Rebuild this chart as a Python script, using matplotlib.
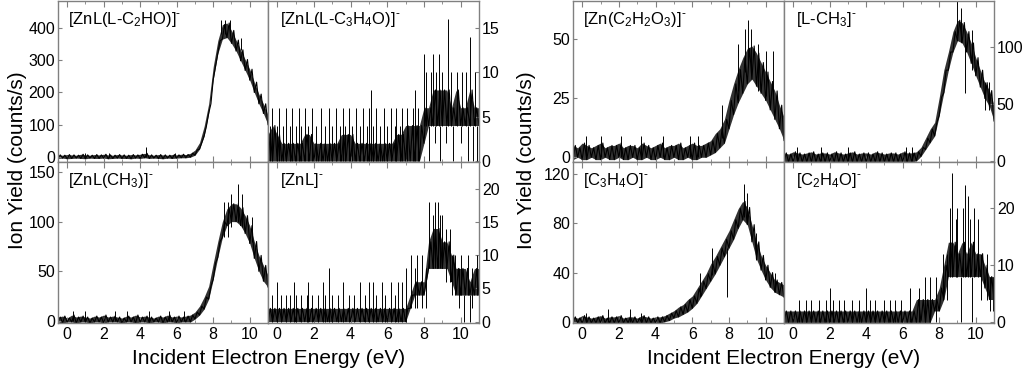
import matplotlib
matplotlib.use('Agg')
import matplotlib.pyplot as plt
from matplotlib.ticker import MultipleLocator

plt.rcParams['font.family'] = ['Liberation Sans', 'DejaVu Sans']
plt.rcParams['mathtext.fontset'] = 'custom'
plt.rcParams['mathtext.rm'] = 'Liberation Sans'
plt.rcParams['mathtext.it'] = 'Liberation Sans'
plt.rcParams['mathtext.default'] = 'regular'

# energy grid of the read-off envelopes (eV)
energy = [-0.5, -0.25, 0.0, 0.25, 0.5, 0.75, 1.0, 1.25, 1.5, 1.75, 2.0, 2.25,
          2.5, 2.75, 3.0, 3.25, 3.5, 3.75, 4.0, 4.25, 4.5, 4.75, 5.0, 5.25,
          5.5, 5.75, 6.0, 6.25, 6.5, 6.75, 7.0, 7.25, 7.5, 7.75, 8.0, 8.25,
          8.5, 8.75, 9.0, 9.25, 9.5, 9.75, 10.0, 10.25, 10.5, 10.75, 11.0]

# [ZnL(L-C2HO)]-
a_lo = [-4, -3, -5, -4, -3, -4, -5, -3, -4, -4, -3, -5, -4, -3, -4, -4, -5, -3,
        -4, -2, -4, -3, -4, -5, -3, -4, -3, -2, -2,
        0, 6, 25, 65, 135, 240, 320, 365, 370, 352, 328, 298, 268, 238, 200, 165, 135, 100]
a_hi = [7, 6, 8, 7, 6, 9, 7, 6, 8, 7, 9, 7, 6, 8, 7, 6, 8, 7, 9, 12, 7, 6, 8, 7,
        6, 8, 7, 9, 8,
        12, 22, 45, 95, 165, 280, 360, 410, 415, 392, 362, 332, 302, 272, 232, 195, 165, 130]
a_spikes = [(0, 30, [4.3]), (0, 12, [1.0, 2.3, 5.9]),
            (380, 425, [8.45, 8.65, 8.9]), (330, 370, [9.5])]

# [ZnL(L-C3H4O)]-
b_lo = [0] * 34 + [2, 4, 4, 4, 4, 4, 4, 4, 4, 4, 4, 4, 4]
b_hi = [3, 4, 3, 2, 2, 2, 2, 2, 3, 3, 2, 2, 2, 2, 2, 2, 3, 3, 3, 2, 2, 2, 2, 2,
        2, 2, 2, 2, 3, 3, 4, 4, 4, 4,
        6, 6, 8, 8, 8, 8, 6, 8, 6, 6, 8, 6, 6]
b_spikes = [(0, 6, [-0.3, 0.1, 0.5, 0.8, 1.2, 1.5, 1.9, 2.4, 2.8, 3.2, 3.6, 3.9,
                    4.3, 4.7, 5.0, 5.4, 5.8, 6.2, 6.5, 6.8, 7.1, 7.4, 7.7]),
            (0, 4, [-0.4, 0.0, 0.3, 0.7, 1.0, 1.3, 1.7, 2.1, 2.6, 3.0, 3.4, 3.7,
                    4.1, 4.5, 4.9, 5.2, 5.6, 6.0, 6.4, 6.7]),
            (0, 8, [5.1, 7.5]),
            (4, 10, [8.1, 8.4, 8.65, 9.0, 9.5, 9.8, 10.1, 10.3, 10.8]),
            (4, 12, [8.0, 8.5, 8.8]), (4, 16, [9.3]), (4, 14, [10.5]),
            (0, 4, [8.3, 8.9, 9.6, 10.4, 10.7, 10.9]),
            (2, 4, [8.6, 9.2, 10.0])]

# [ZnL(CH3)]-
c_lo = [-1, -2, -1, -1, -2, -1, -1, -2, -1, -1, -2, -1, -1, -1, -2, -1, -1, -2,
        -1, -1, -2, -1, -1, -2, -1, -1, -2, -1, -1,
        -1, 2, 6, 12, 22, 42, 64, 84, 96, 100, 100, 96, 88, 78, 63, 50, 40, 34]
c_hi = [4, 5, 3, 6, 4, 5, 4, 3, 5, 4, 6, 4, 5, 4, 3, 5, 4, 6, 4, 5, 4, 3, 5, 4,
        6, 4, 5, 4, 5,
        6, 9, 15, 24, 35, 58, 80, 100, 113, 118, 118, 114, 106, 96, 80, 66, 56, 46]
c_spikes = [(100, 138, [9.35]), (95, 128, [9.0, 9.6]), (85, 120, [8.6, 8.8]),
            (80, 105, [10.1]), (0, 10, [0.3, 1.0, 2.6, 3.3, 4.5, 5.6, 6.4])]

# [ZnL]-
d_lo = [0] * 31 + [2, 4, 4, 4, 8, 8, 8, 8, 8, 6, 4, 4, 4, 4, 4, 4]
d_hi = [2] * 31 + [4, 6, 6, 6, 12, 14, 14, 12, 12, 10, 8, 8, 8, 6, 8, 8]
d_spikes = [(0, 4, [-0.3, 0.2, 0.5, 0.7, 1.0, 1.3, 1.6, 1.9, 2.2, 2.6, 3.0, 3.3,
                    3.9, 4.2, 4.8, 5.4, 5.9, 6.4]),
            (0, 6, [0.0, 0.9, 1.7, 2.5, 3.6, 4.5, 5.0, 5.2, 5.7, 6.2, 6.6, 6.8]),
            (0, 8, [2.8, 7.0]), (2, 10, [7.3, 7.6, 7.9]),
            (8, 18, [8.3, 8.6, 8.75]), (8, 16, [8.5, 8.9, 9.0]),
            (6, 14, [9.2, 9.4]), (4, 10, [9.55, 9.7, 10.0, 10.4, 10.9]),
            (0, 4, [10.2, 10.5]), (2, 8, [7.5, 8.1, 9.9, 10.6])]

# [Zn(C2H2O3)]-
e_lo = [-1, 0, -1, -1, 0, -1, -1, 0, -1, -1, 0, -1, -1, 0, -1, -1, 0, -1, -1, 0,
        -1, -1, 0, -1, -1, 0, -1, -1, 0,
        0, 1, 2, 4, 6, 12, 18, 23, 27, 31, 33, 30, 27, 24, 20, 16, 12, 7]
e_hi = [5, 4, 6, 5, 4, 5, 6, 4, 5, 5, 6, 4, 5, 5, 4, 6, 5, 4, 5, 6, 4, 5, 5, 6,
        4, 5, 6, 5, 5,
        6, 7, 10, 12, 16, 24, 31, 37, 42, 46, 47, 44, 40, 36, 32, 28, 22, 17]
e_spikes = [(38, 58, [9.05]), (36, 54, [8.9, 9.2]), (28, 48, [8.5, 9.6]),
            (26, 45, [10.0, 10.4]), (8, 22, [7.6]),
            (0, 9, [0.2, 1.0, 2.1, 3.2, 4.4, 5.9, 6.3])]

# [L-CH3]-
f_lo = [-1] * 29 + [0, 4, 10, 16, 22, 40, 60, 80, 96, 106, 104, 96, 86, 75, 65,
                    55, 48, 35]
f_hi = [7, 6, 8, 7, 6, 7, 8, 6, 7, 7, 6, 8, 7, 6, 7, 8, 6, 7, 7, 6, 8, 7, 6, 7,
        7, 6, 8, 7, 7,
        8, 12, 20, 28, 34, 56, 80, 96, 114, 124, 122, 114, 104, 91, 80, 69, 62, 49]
f_spikes = [(110, 145, [8.95]), (105, 135, [9.2]), (60, 110, [9.4]),
            (80, 115, [9.8]), (45, 70, [10.5, 10.7]),
            (0, 12, [0.2, 1.5, 3.0, 6.2, 6.5])]

# [C3H4O]-
g_lo = [-1] * 20 + [0, 1, 3, 4, 6, 8, 11, 15, 21, 27, 33, 39, 46, 53, 60, 67, 76,
                    83, 79, 65, 51, 42, 34, 28, 24, 22, 20]
g_hi = [4, 3, 5, 4, 3, 4, 5, 3, 4, 4, 5, 3, 4, 4, 3, 5, 4, 3, 4, 4,
        5, 7, 9, 12, 14, 18, 21, 27, 33, 39, 47, 53, 60, 67, 74, 83, 92,
        98, 93, 79, 65, 54, 46, 40, 34, 32, 30]
g_spikes = [(85, 112, [8.8]), (80, 105, [9.0]), (20, 60, [7.9]), (20, 40, [6.4]),
            (38, 60, [7.1]), (0, 10, [1.4, 2.6]), (0, 7, [0.2, 3.2]),
            (50, 72, [9.5]), (24, 40, [10.5])]

# [C2H4O]-
h_lo = [0] * 33 + [2, 2, 4, 8, 8, 8, 8, 8, 8, 8, 8, 6, 4, 4]
h_hi = [2] * 29 + [4, 4, 4, 4, 4, 6, 10, 14, 14, 12, 14, 12, 14, 12, 12, 10, 8, 8]
h_spikes = [(0, 4, [0.3, 0.7, 1.0, 1.4, 1.8, 2.2, 2.5, 2.8, 3.2, 3.6, 4.2, 4.5,
                    5.0, 5.3, 5.6, 5.9]),
            (0, 6, [2.0, 4.0, 6.4, 6.9]), (0, 8, [7.2, 7.5, 7.8]),
            (4, 12, [8.2, 8.4]), (8, 26, [8.7]), (8, 24, [9.4]), (8, 22, [9.6]),
            (8, 20, [8.6, 9.0, 9.3, 9.9]), (8, 18, [8.9, 9.7, 10.1]),
            (0, 8, [9.2, 9.8]), (4, 12, [10.3, 10.6]), (2, 8, [10.8, 10.95])]

panels = [
    # label, lo, hi, spikes, ylim, ytick step, column side, left px, top px, width px
    (r'[ZnL(L-C$_2$HO)]$^{\text{-}}$', a_lo, a_hi, a_spikes, (-15, 483), 100, 'left', 58, 1, 210),
    (r'[ZnL(L-C$_3$H$_4$O)]$^{\text{-}}$', b_lo, b_hi, b_spikes, (-0.1, 18), 5, 'right', 268, 1, 211),
    (r'[ZnL(CH$_3$)]$^{\text{-}}$', c_lo, c_hi, c_spikes, (-2, 160), 50, 'left', 58, 162, 210),
    (r'[ZnL]$^{\text{-}}$', d_lo, d_hi, d_spikes, (-0.2, 24), 5, 'right', 268, 162, 211),
    (r'[Zn(C$_2$H$_2$O$_3$)]$^{\text{-}}$', e_lo, e_hi, e_spikes, (-2, 66), 25, 'left', 573, 1, 211),
    (r'[L-CH$_3$]$^{\text{-}}$', f_lo, f_hi, f_spikes, (-1, 141), 50, 'right', 784, 1, 210),
    (r'[C$_3$H$_4$O]$^{\text{-}}$', g_lo, g_hi, g_spikes, (-1, 130), 40, 'left', 573, 162, 211),
    (r'[C$_2$H$_4$O]$^{\text{-}}$', h_lo, h_hi, h_spikes, (-0.1, 28), 10, 'right', 784, 162, 210),
]

W, H = 1024, 372
fig = plt.figure(figsize=(W / 100, H / 100), dpi=100)
frame = '#808080'

for label, lo, hi, spikes, ylim, ystep, side, x0, y0, w in panels:
    h = 161
    ax = fig.add_axes([x0 / W, 1 - (y0 + h) / H, w / W, h / H])
    # dense noise band between the low and high envelope readings
    ax.fill_between(energy, lo, hi, color='black', alpha=0.8, linewidth=0)
    # noisy trace: alternate between the low and high envelope readings
    xs, ys = [], []
    for e, l, u in zip(energy, lo, hi):
        xs += [e, e + 0.125]
        ys += [l, u]
    ax.plot(xs, ys, color='black', linewidth=0.8)
    for bottom, top, es in spikes:
        ax.vlines(es, bottom, top, color='black', linewidth=0.7)
    ax.set_xlim(-0.5, 11)
    ax.set_ylim(*ylim)
    ax.xaxis.set_major_locator(MultipleLocator(2))
    ax.xaxis.set_minor_locator(MultipleLocator(1))
    ax.yaxis.set_major_locator(MultipleLocator(ystep))
    for s in ax.spines.values():
        s.set_color(frame)
        s.set_linewidth(1.0)
    ax.tick_params(axis='x', which='both', direction='in', top=True, bottom=True,
                   color=frame, labelsize=11.5, pad=3,
                   labelbottom=(y0 > 100))
    ax.tick_params(axis='x', which='major', length=4)
    ax.tick_params(axis='x', which='minor', length=2)
    if side == 'left':
        ax.tick_params(axis='y', direction='in', left=True, right=False,
                       labelleft=True, labelright=False, length=3,
                       color=frame, labelsize=11.5, pad=2)
    else:
        ax.tick_params(axis='y', direction='in', left=False, right=True,
                       labelleft=False, labelright=True, length=3,
                       color=frame, labelsize=11.5, pad=2)
    tx = 0.048 if side == 'left' else 0.058
    ax.text(tx, 0.855, label, transform=ax.transAxes, fontsize=12,
            ha='left', va='baseline')

for xc in (18, 527):
    fig.text(xc / W, 1 - 160 / H, 'Ion Yield (counts/s)', rotation=90,
             ha='center', va='center', fontsize=15)
for xc in (269, 784):
    fig.text(xc / W, 1 - 358 / H, 'Incident Electron Energy (eV)',
             ha='center', va='center', fontsize=15)

fig.savefig('out.png', dpi=100)
